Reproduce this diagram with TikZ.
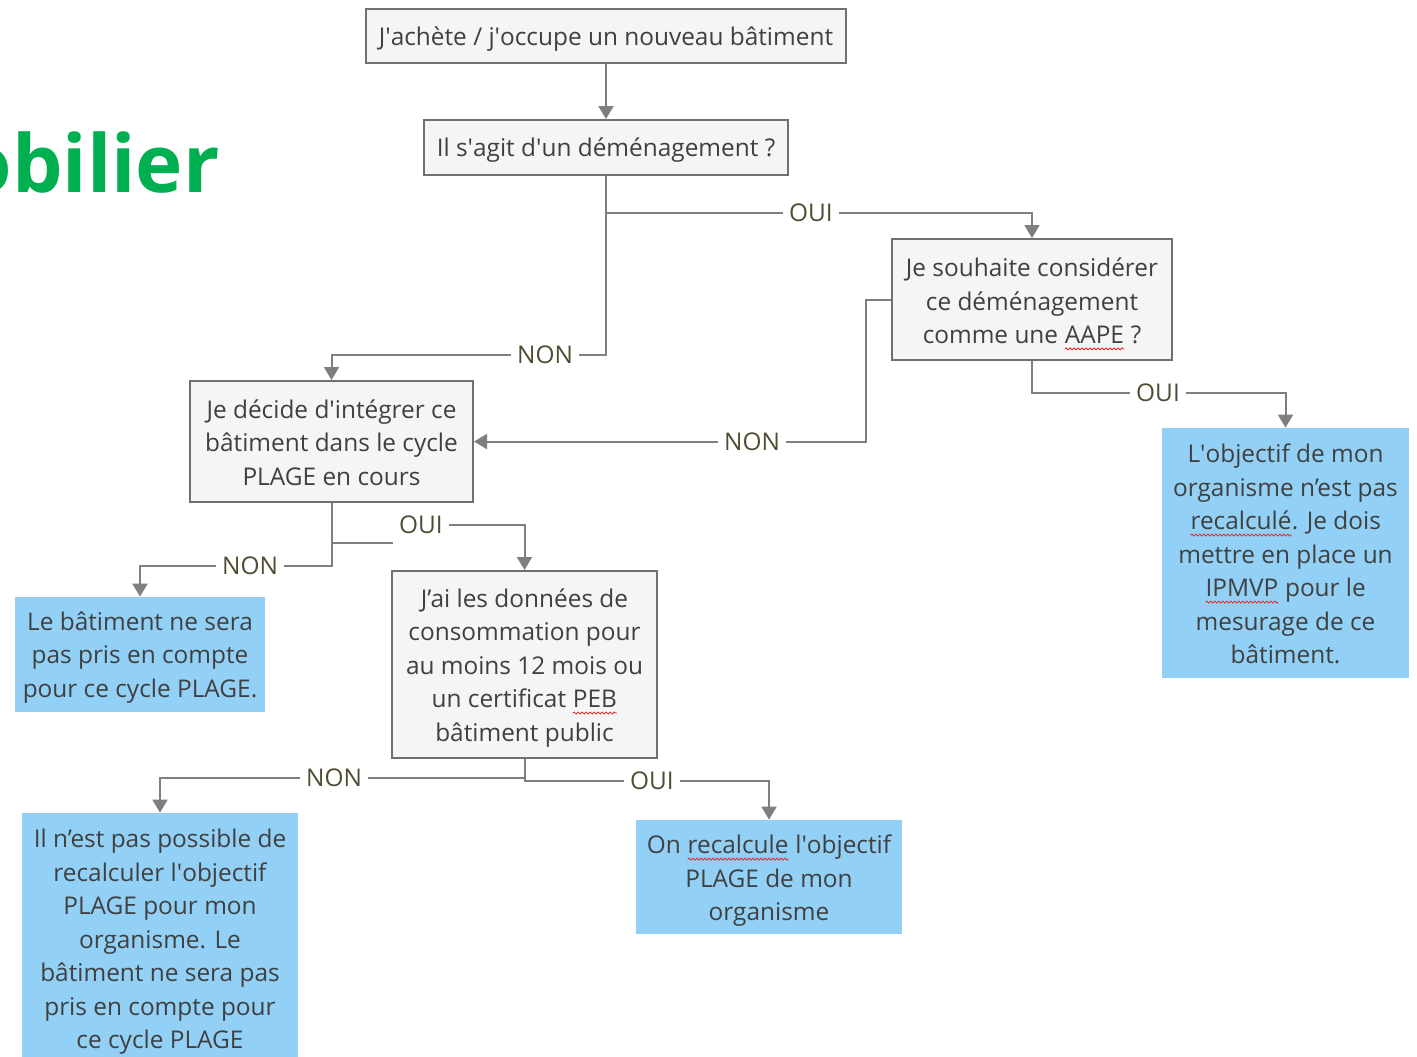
\documentclass[tikz,border=0pt]{standalone}
\usepackage{fontspec}
\setmainfont{Open Sans}
\usetikzlibrary{arrows.meta,decorations.pathmorphing}
\definecolor{linegray}{RGB}{127,127,127}
\definecolor{boxborder}{RGB}{112,112,112}
\definecolor{boxfill}{RGB}{245,245,245}
\definecolor{bluefill}{RGB}{146,208,245}
\definecolor{txt}{RGB}{64,64,64}
\definecolor{labtxt}{RGB}{80,76,50}
\definecolor{brandgreen}{RGB}{0,176,80}
\definecolor{spellred}{RGB}{230,40,40}
\newcommand\spellwave[1]{\tikz[baseline=(sw.base)]{\node[inner sep=0pt,outer sep=0pt,draw=none,fill=none,text width={},minimum width=0pt,minimum height=0pt,anchor=base] (sw) at (0,0) {#1};\draw[spellred,line width=0.4pt,decorate,decoration={snake,amplitude=0.5pt,segment length=2pt}] ([yshift=-2.6pt]sw.base west) -- ([yshift=-2.6pt]sw.base east);}}
\newcommand\ap{\textquotesingle}
\newcommand\bodyfont{\fontsize{12.2}{16.75}\selectfont}
\newcommand\brandfont{\fontsize{40}{48}\selectfont\bfseries}
\tikzset{
  qbox/.style={draw=boxborder, line width=1pt, fill=boxfill, inner sep=0pt},
  abox/.style={fill=bluefill, inner sep=0pt},
  boxtext/.style={text=txt, align=center, inner sep=0pt, font=\bodyfont},
  conn/.style={draw=linegray, line width=1pt, -{Triangle[width=7.5pt,length=6.5pt]}},
  plain/.style={draw=linegray, line width=1pt},
  lab/.style={text=labtxt, font=\bodyfont, inner ysep=2pt, inner xsep=3pt},
}
\begin{document}
\begin{tikzpicture}[x=0.5pt,y=-0.5pt]
\useasboundingbox (0,0) rectangle (1417,1056);
\fill[white] (0,0) rectangle (1417,1056);

% brand text (cut at the left edge)
\node[anchor=base east, inner sep=0pt, text=brandgreen, font=\brandfont] (brand) at (220,192) {obilier};

% boxes
\node[qbox, minimum width=240pt, minimum height=27pt] (b1) at (606,36) {};
\node[qbox, minimum width=182pt, minimum height=27.5pt] (b2) at (606,147.5) {};
\node[qbox, minimum width=140pt, minimum height=60.5pt] (b3) at (1032,299.5) {};
\node[qbox, minimum width=141.5pt, minimum height=60.5pt] (b4) at (331.5,441.5) {};
\node[abox, minimum width=123.5pt, minimum height=125pt] (b5) at (1285.5,553) {};
\node[abox, minimum width=125pt, minimum height=57.5pt] (b6) at (140,654.5) {};
\node[qbox, minimum width=132.5pt, minimum height=93.5pt] (b7) at (524.5,664.5) {};
\node[abox, minimum width=138pt, minimum height=127pt] (b8) at (160,940) {};
\node[abox, minimum width=133pt, minimum height=57pt] (b9) at (769,877) {};

% box texts
\node[boxtext] (t1) at ([yshift=-1.5pt]b1.center) {J\ap achète / j\ap occupe un nouveau bâtiment};
\node[boxtext] (t2) at ([yshift=-1.5pt]b2.center) {Il s\ap agit d\ap un déménagement ?};
\node[boxtext] (t3) at ([yshift=-2.3pt]b3.center) {Je souhaite considérer\\ce déménagement\\comme une \spellwave{AAPE} ?};
\node[boxtext] (t4) at ([yshift=-0.6pt]b4.center) {Je décide d\ap intégrer ce\\bâtiment dans le cycle\\PLAGE en cours};
\node[boxtext] (t5) at ([yshift=-0.6pt]b5.center) {L\ap objectif de mon\\organisme n’est pas\\\spellwave{recalculé}. Je dois\\mettre en place un\\\spellwave{IPMVP} pour le\\mesurage de ce\\bâtiment.};
\node[boxtext] (t6) at ([yshift=-1.5pt]b6.center) {Le bâtiment ne sera\\pas pris en compte\\pour ce cycle PLAGE.};
\node[boxtext] (t7) at ([yshift=-1.7pt]b7.center) {J’ai les données de\\consommation pour\\au moins 12 mois ou\\un certificat \spellwave{PEB}\\bâtiment public};
\node[boxtext] (t8) at ([yshift=-1pt]b8.center) {Il n’est pas possible de\\recalculer l\ap objectif\\PLAGE pour mon\\organisme. Le\\bâtiment ne sera pas\\pris en compte pour\\ce cycle PLAGE};
\node[boxtext] (t9) at ([yshift=-2pt]b9.center) {On \spellwave{recalcule} l\ap objectif\\PLAGE de mon\\organisme};

% labels
\node[lab] (l1) at (811,213) {OUI};
\node[lab] (l2) at (545,355) {NON};
\node[lab] (l3) at (752,441.5) {NON};
\node[lab] (l4) at (1158,393) {OUI};
\node[lab] (l5) at (421,525) {OUI};
\node[lab] (l6) at (250,566) {NON};
\node[lab] (l7) at (334,778) {NON};
\node[lab] (l8) at (652,781) {OUI};

% junction points
\coordinate (c1) at (606,213);
\coordinate (c2) at (606,355);
\coordinate (c3) at (866,299.5);
\coordinate (c5) at (331.5,543);
\coordinate (c6) at (331.5,566);
\coordinate (c7) at (524.5,781);
\coordinate (c8) at (524.5,778);

% connectors
\draw[conn] (b1) -- (b2);
\draw[plain] (b2.south) -- (c2) -- (l2.east);
\draw[plain] (c1) -- (l1.west);
\draw[conn] (l1.east) -| (b3.north);
\draw[conn] (l2.west) -| (b4.north);
\draw[plain] (b3.west) -- (c3) |- (l3.east);
\draw[conn] (l3.west) -- (b4.east);
\draw[plain] (b3.south) |- (l4.west);
\draw[conn] (l4.east) -| (b5.north);
\draw[plain] (b4.south) -- (c6) -- (l6.east);
\draw[plain] (c5) -- (c5 -| l5.west);
\draw[conn] (l5.east) -| (b7.north);
\draw[conn] (l6.west) -| (b6.north);
\draw[plain] (b7.south) -- (c7) -- (l8.west);
\draw[conn] (l8.east) -| (b9.north);
\draw[plain] (c8) -- (l7.east);
\draw[conn] (l7.west) -| (b8.north);
\end{tikzpicture}
\end{document}
